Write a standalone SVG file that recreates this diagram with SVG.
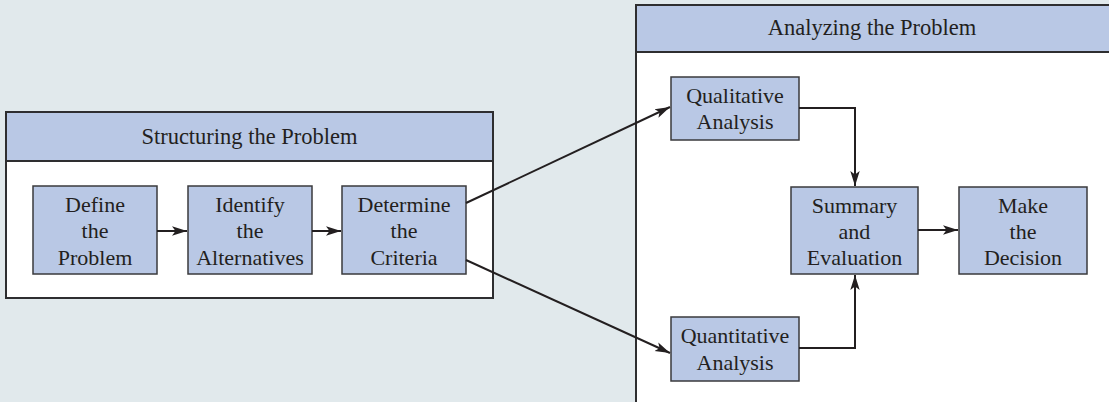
<svg xmlns="http://www.w3.org/2000/svg" width="1109" height="402" viewBox="0 0 1109 402">
  <style>
    .panel { fill: #ffffff; stroke: #2e2e30; stroke-width: 2; }
    .head { fill: #b9c8e5; stroke: #2e2e30; stroke-width: 2; }
    .box { fill: #b9c8e5; stroke: #3a3a3c; stroke-width: 1.5; }
    text { font-family: "Liberation Serif", "Times New Roman", serif; font-size: 22px; fill: #231f20; text-anchor: middle; }
    .hd { font-size: 22.5px; }
    .conn { fill: none; stroke: #231f20; stroke-width: 2; }
  </style>
  <defs>
    <marker id="arr" markerWidth="16" markerHeight="11" refX="15" refY="5.5" orient="auto" markerUnits="userSpaceOnUse">
      <path d="M0,0.8 L15,5.5 L0,10.2 L3.5,5.5 Z" fill="#231f20"/>
    </marker>
  </defs>

  <!-- background -->
  <rect x="0" y="0" width="1109" height="402" fill="#e1e9ec"/>

  <!-- structuring panel -->
  <g id="structuring">
    <rect class="panel" x="6" y="112" width="487" height="186"/>
    <rect class="head" x="6" y="112" width="487" height="49"/>
    <text class="hd" x="249.5" y="144">Structuring the Problem</text>
  </g>

  <!-- analyzing panel -->
  <g id="analyzing">
    <rect class="panel" x="636" y="5" width="480" height="405"/>
    <rect class="head" x="636" y="5" width="480" height="47"/>
    <text class="hd" x="872" y="35">Analyzing the Problem</text>
  </g>

  <g id="define">
    <rect class="box" x="33" y="186" width="124" height="88"/>
    <text x="95" y="212">Define</text>
    <text x="95" y="238">the</text>
    <text x="95" y="265">Problem</text>
  </g>

  <g id="identify">
    <rect class="box" x="188" y="186" width="124" height="88"/>
    <text x="250" y="212">Identify</text>
    <text x="250" y="238">the</text>
    <text x="250" y="265">Alternatives</text>
  </g>

  <g id="determine">
    <rect class="box" x="342" y="186" width="124" height="88"/>
    <text x="404" y="212">Determine</text>
    <text x="404" y="238">the</text>
    <text x="404" y="265">Criteria</text>
  </g>

  <g id="qualitative">
    <rect class="box" x="671" y="77" width="128" height="63"/>
    <text x="735" y="103">Qualitative</text>
    <text x="735" y="129">Analysis</text>
  </g>

  <g id="quantitative">
    <rect class="box" x="671" y="317" width="128" height="64"/>
    <text x="735" y="343">Quantitative</text>
    <text x="735" y="370">Analysis</text>
  </g>

  <g id="summary">
    <rect class="box" x="791" y="187" width="127" height="87"/>
    <text x="854.5" y="213">Summary</text>
    <text x="854.5" y="239">and</text>
    <text x="854.5" y="265">Evaluation</text>
  </g>

  <g id="decision">
    <rect class="box" x="959" y="187" width="128" height="87"/>
    <text x="1023" y="213">Make</text>
    <text x="1023" y="239">the</text>
    <text x="1023" y="265">Decision</text>
  </g>

  <!-- connectors -->
  <g id="connectors">
    <line class="conn" x1="157" y1="231" x2="187" y2="231" marker-end="url(#arr)"/>
    <line class="conn" x1="312" y1="231" x2="341" y2="231" marker-end="url(#arr)"/>
    <line class="conn" x1="466" y1="203" x2="670" y2="107" marker-end="url(#arr)"/>
    <line class="conn" x1="466" y1="260" x2="670" y2="353" marker-end="url(#arr)"/>
    <polyline class="conn" points="799,108 855,108 855,186" marker-end="url(#arr)"/>
    <polyline class="conn" points="799,348 855,348 855,275" marker-end="url(#arr)"/>
    <line class="conn" x1="918" y1="230" x2="958" y2="230" marker-end="url(#arr)"/>
  </g>
</svg>
